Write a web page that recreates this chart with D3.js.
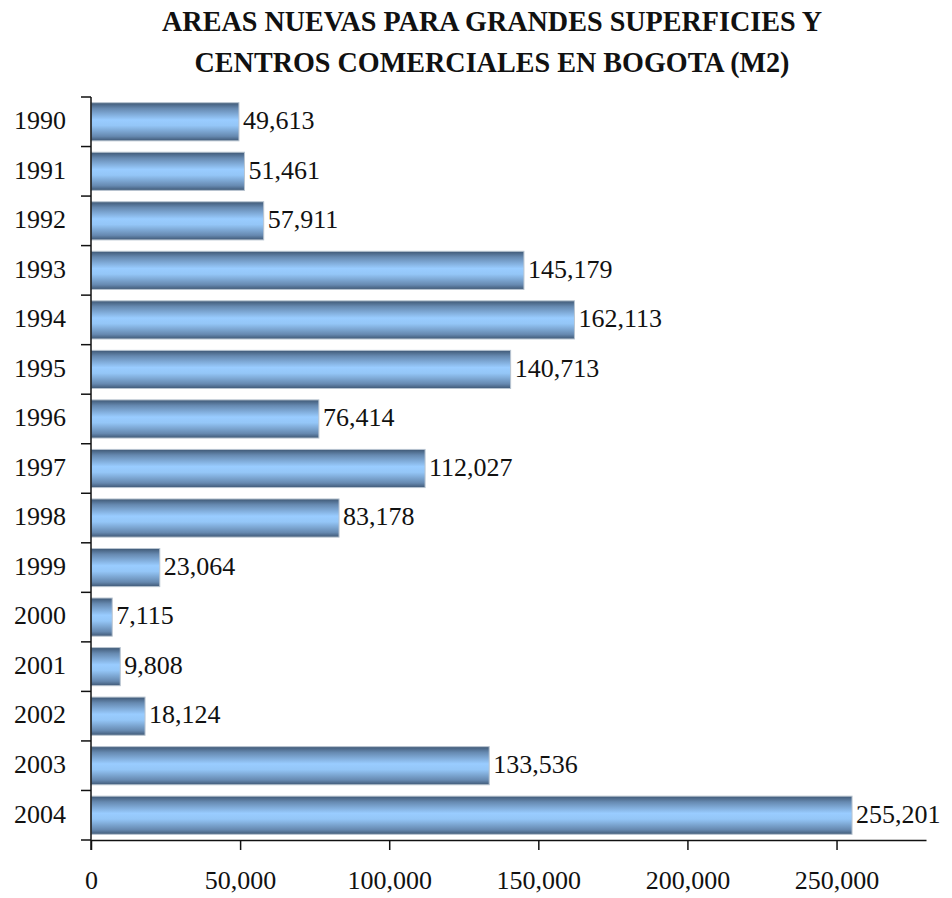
<!DOCTYPE html>
<html>
<head>
<meta charset="utf-8">
<script src="https://cdn.jsdelivr.net/npm/d3@7"></script>
<style>
  body { margin: 0; background: #fff; }
  svg text { font-family: "Liberation Serif", "Times New Roman", serif; fill: #111; }
</style>
</head>
<body>
<svg id="stage" width="952" height="898"></svg>
<script>
var svg = d3.select("#stage");

// data
var years = ["1990","1991","1992","1993","1994","1995","1996","1997","1998","1999","2000","2001","2002","2003","2004"];
var areas = [49613, 51461, 57911, 145179, 162113, 140713, 76414, 112027, 83178, 23064, 7115, 9808, 18124, 133536, 255201];
var xTicks = [0, 50000, 100000, 150000, 200000, 250000];
var titleLines = ["AREAS NUEVAS PARA GRANDES SUPERFICIES Y", "CENTROS COMERCIALES EN BOGOTA (M2)"];
var titleWidths = [660, 595];

var plotLeft = 91, plotRight = 926, plotTop = 97, plotBottom = 840;

var x = d3.scaleLinear().domain([0, 280000]).range([plotLeft, plotRight]);
var y = d3.scaleBand().domain(years).range([plotTop, plotBottom]).paddingInner(0.23).paddingOuter(0.115);

var fmt = d3.format(",");

// gradient for bars
var defs = svg.append("defs");
var grad = defs.append("linearGradient")
    .attr("id", "barGrad")
    .attr("x1", 0).attr("y1", 0).attr("x2", 0).attr("y2", 1);
grad.append("stop").attr("offset", "0%").attr("stop-color", "#3f5875");
grad.append("stop").attr("offset", "15%").attr("stop-color", "#6689b0");
grad.append("stop").attr("offset", "45%").attr("stop-color", "#99ccff");
grad.append("stop").attr("offset", "60%").attr("stop-color", "#94c6f7");
grad.append("stop").attr("offset", "88%").attr("stop-color", "#6689b0");
grad.append("stop").attr("offset", "100%").attr("stop-color", "#3f5875");

// title
svg.selectAll(".title")
  .data(titleLines)
  .enter().append("text")
    .attr("class", "title")
    .attr("x", 492)
    .attr("y", function(d, i){ return 31 + i * 41; })
    .attr("text-anchor", "middle")
    .attr("textLength", function(d, i){ return titleWidths[i]; })
    .attr("lengthAdjust", "spacingAndGlyphs")
    .style("font-size", "29px")
    .style("font-weight", "bold")
    .text(function(d){ return d; });

// bars
svg.selectAll(".bar")
  .data(areas)
  .enter().append("rect")
    .attr("class", "bar")
    .attr("x", x(0))
    .attr("y", function(d, i){ return y(years[i]); })
    .attr("width", function(d){ return x(d) - x(0); })
    .attr("height", y.bandwidth())
    .attr("fill", "url(#barGrad)")
    .attr("stroke", "#b8c4d0")
    .attr("stroke-width", 1);

// value labels
svg.selectAll(".val")
  .data(areas)
  .enter().append("text")
    .attr("class", "val")
    .attr("x", function(d){ return x(d) + 4; })
    .attr("y", function(d, i){ return y(years[i]) + y.bandwidth() / 2; })
    .attr("dy", "0.28em")
    .style("font-size", "26px")
    .text(function(d){ return fmt(d); });

// x axis
var xAxis = svg.append("g")
    .attr("transform", "translate(0," + plotBottom + ")")
    .call(d3.axisBottom(x).tickValues(xTicks).tickFormat(fmt).tickSize(10).tickPadding(21).tickSizeOuter(0));
xAxis.select(".domain").attr("stroke", "#111").attr("stroke-width", 1.5);
xAxis.selectAll(".tick line").attr("stroke", "#111").attr("stroke-width", 1.5);
xAxis.selectAll(".tick text").style("font-size", "26px").attr("fill", "#111");

// y axis: ticks at band boundaries
var yAxis = svg.append("g").attr("transform", "translate(" + plotLeft + ",0)");
yAxis.append("line")
    .attr("x1", 0).attr("x2", 0).attr("y1", plotTop).attr("y2", plotBottom + 10)
    .attr("stroke", "#111").attr("stroke-width", 1.5);
var bounds = d3.range(years.length + 1).map(function(i){ return plotTop + i * (plotBottom - plotTop) / years.length; });
yAxis.selectAll(".ytick")
  .data(bounds)
  .enter().append("line")
    .attr("class", "ytick")
    .attr("x1", -10).attr("x2", 0)
    .attr("y1", function(d){ return d; }).attr("y2", function(d){ return d; })
    .attr("stroke", "#111").attr("stroke-width", 1.5);
yAxis.selectAll(".ylab")
  .data(years)
  .enter().append("text")
    .attr("class", "ylab")
    .attr("x", -25)
    .attr("y", function(d){ return y(d) + y.bandwidth() / 2; })
    .attr("dy", "0.28em")
    .attr("text-anchor", "end")
    .style("font-size", "26px")
    .text(function(d){ return d; });
</script>
</body>
</html>
